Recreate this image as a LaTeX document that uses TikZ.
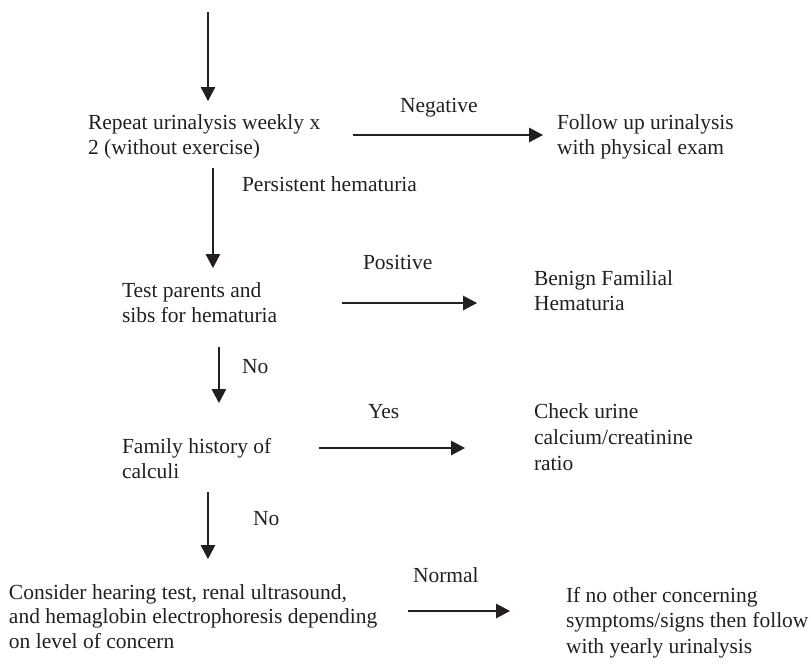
\documentclass[tikz,border=0pt]{standalone}
\usepackage{fontspec}
\setmainfont{Liberation Serif}
\usetikzlibrary{arrows.meta}
\definecolor{ink}{RGB}{35,31,32}
\begin{document}
\begin{tikzpicture}[x=1pt,y=-1pt,
  txt/.style={anchor=base west, inner sep=0pt, outer sep=0pt, text=ink, font=\fontsize{21.5}{25}\selectfont},
  arr/.style={draw=ink, line width=1.3pt, -{Triangle[length=14pt,width=14.5pt]}}]
\useasboundingbox (0,0) rectangle (811,665);

% text nodes
\node[txt] (rep) at (88,129) {\begin{tabular}[t]{@{}l@{}}Repeat urinalysis weekly x\\ 2 (without exercise)\end{tabular}};
\node[txt] (fol) at (557,129) {\begin{tabular}[t]{@{}l@{}}Follow up urinalysis\\ with physical exam\end{tabular}};
\node[txt] (neg) at (400,112) {Negative};
\node[txt] (per) at (242,191) {Persistent hematuria};
\node[txt] (tst) at (122,297) {\begin{tabular}[t]{@{}l@{}}Test parents and\\ sibs for hematuria\end{tabular}};
\node[txt] (pos) at (363,269) {Positive};
\node[txt] (ben) at (534,285) {\begin{tabular}[t]{@{}l@{}}Benign Familial\\ Hematuria\end{tabular}};
\node[txt] (no1) at (242,373) {No};
\node[txt] (fam) at (122,453) {\begin{tabular}[t]{@{}l@{}}Family history of\\ calculi\end{tabular}};
\node[txt] (yes) at (368,418) {Yes};
\node[txt, font=\fontsize{21.5}{26}\selectfont] (chk) at (534,418) {\begin{tabular}[t]{@{}l@{}}Check urine\\ calcium/creatinine\\ ratio\end{tabular}};
\node[txt] (no2) at (253,525) {No};
\node[txt, font=\fontsize{21.5}{24.5}\selectfont] (con) at (9,599) {\begin{tabular}[t]{@{}l@{}}Consider hearing test, renal ultrasound,\\ and hemaglobin electrophoresis depending\\ on level of concern\end{tabular}};
\node[txt] (nor) at (413,582) {Normal};
\node[txt, font=\fontsize{21.5}{25.5}\selectfont] (ifn) at (566,602) {\begin{tabular}[t]{@{}l@{}}If no other concerning\\ symptoms/signs then follow\\ with yearly urinalysis\end{tabular}};

% connectors
\coordinate (entry) at (208,12);
\draw[arr, shorten >=10.5pt] (entry) -- (entry |- rep.north);

\coordinate (negS) at ([yshift=1.5pt]rep.east);
\draw[arr, shorten <=32.7pt, shorten >=14pt] (negS) -- (negS -| fol.west);

\coordinate (perS) at ([xshift=8.8pt]rep.south);
\draw[arr, shorten <=6.5pt, shorten >=11.5pt] (perS) -- (perS |- tst.north);

\coordinate (posS) at ([yshift=1.5pt]tst.east);
\draw[arr, shorten <=64.7pt, shorten >=57pt] (posS) -- (posS -| ben.west);

\coordinate (noS) at ([xshift=19.3pt]tst.south);
\draw[arr, shorten <=17.5pt, shorten >=32.5pt] (noS) -- (noS |- fam.north);

\coordinate (yesS) at ([yshift=12.5pt]fam.east);
\draw[arr, shorten <=47.7pt, shorten >=69pt] (yesS) -- (yesS -| chk.west);

\coordinate (noT) at ([xshift=11.3pt]fam.south);
\draw[arr, shorten <=6.5pt, shorten >=22.8pt] (noT) -- (noT |- con.north);

\coordinate (norS) at ([yshift=7.6pt]con.east);
\draw[arr, shorten <=31pt, shorten >=56pt] (norS) -- (norS -| ifn.west);
\end{tikzpicture}
\end{document}
